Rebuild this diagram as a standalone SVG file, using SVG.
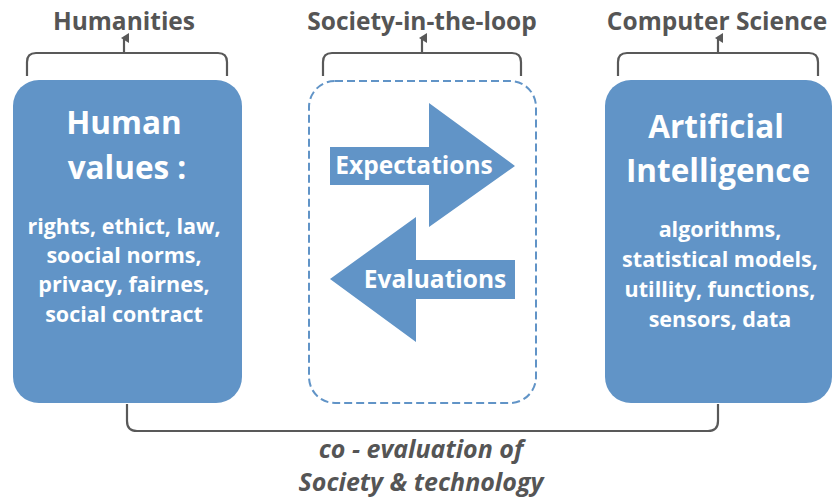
<svg xmlns="http://www.w3.org/2000/svg" width="832" height="499" viewBox="0 0 832 499">
<style>
.box{fill:#6194c7}
.bracket{fill:none;stroke:#595959;stroke-width:2.2}
.hdr{font-family:"Open Sans",sans-serif;font-weight:bold;font-size:24.5px;fill:#555555;text-anchor:middle}
.title{font-family:"Open Sans",sans-serif;font-weight:bold;font-size:31.5px;fill:#ffffff;text-anchor:middle}
.body{font-family:"Open Sans",sans-serif;font-weight:bold;font-size:21.5px;fill:#ffffff;text-anchor:middle}
.arrtxt{font-family:"Open Sans",sans-serif;font-weight:bold;font-size:24.5px;fill:#ffffff;text-anchor:middle}
.foot{font-family:"Open Sans",sans-serif;font-weight:bold;font-style:italic;font-size:25px;fill:#555555;text-anchor:middle}
</style>
<defs>
<marker id="up" viewBox="0 0 10 10" refX="5" refY="5" markerWidth="10" markerHeight="10" markerUnits="userSpaceOnUse" orient="auto">
<path d="M0,10 L5,2 L10,10 Z" fill="#595959"/>
</marker>
</defs>
<rect width="832" height="499" fill="#ffffff"/>
<g id="connectors">
<path class="bracket" d="M27,76 V62 Q27,53 36,53 H218 Q227,53 227,62 V76"/>
<path class="bracket" d="M124,53 V38" marker-end="url(#up)"/>
<path class="bracket" d="M323,76 V62 Q323,53 332,53 H512 Q521,53 521,62 V76"/>
<path class="bracket" d="M422,53 V38" marker-end="url(#up)"/>
<path class="bracket" d="M618,76 V62 Q618,53 627,53 H809 Q818,53 818,62 V76"/>
<path class="bracket" d="M718,53 V38" marker-end="url(#up)"/>
<path class="bracket" d="M127,404 V421 Q127,431 137,431 H708 Q718,431 718,421 V404"/>
</g>
<g id="humanities-label"><text class="hdr" x="124" y="30">Humanities</text></g>
<g id="society-label"><text class="hdr" x="422" y="30">Society-in-the-loop</text></g>
<g id="cs-label"><text class="hdr" x="717" y="30">Computer Science</text></g>
<g id="human-values">
<rect class="box" x="13" y="80" width="229" height="323" rx="26"/>
<text class="title" x="124" y="134">Human</text>
<text class="title" x="127" y="179">values :</text>
<text class="body" x="124" y="234">rights, ethict, law,</text>
<text class="body" x="124" y="263">soocial norms,</text>
<text class="body" x="124" y="292">privacy, fairnes,</text>
<text class="body" x="124" y="322">social contract</text>
</g>
<g id="society-loop">
<rect x="309" y="81" width="227" height="322" rx="26" fill="none" stroke="#6194c7" stroke-width="2" stroke-dasharray="8,4"/>
</g>
<g id="expectations">
<path class="box" d="M330,147 H429 V103 L515,166 L429,227 V185 H330 Z"/>
<text class="arrtxt" x="414" y="174">Expectations</text>
</g>
<g id="evaluations">
<path class="box" d="M515,260 H416 V217 L330,279 L416,342 V299 H515 Z"/>
<text class="arrtxt" x="435" y="288">Evaluations</text>
</g>
<g id="artificial-intelligence">
<rect class="box" x="605" y="80" width="227" height="323" rx="26"/>
<text class="title" x="716" y="138">Artificial</text>
<text class="title" x="718" y="182">Intelligence</text>
<text class="body" x="720" y="237">algorithms,</text>
<text class="body" x="720" y="267">statistical models,</text>
<text class="body" x="720" y="297">utillity, functions,</text>
<text class="body" x="720" y="327">sensors, data</text>
</g>
<g id="footer">
<text class="foot" x="421" y="458">co - evaluation of</text>
<text class="foot" x="421" y="491">Society &amp; technology</text>
</g>
</svg>
